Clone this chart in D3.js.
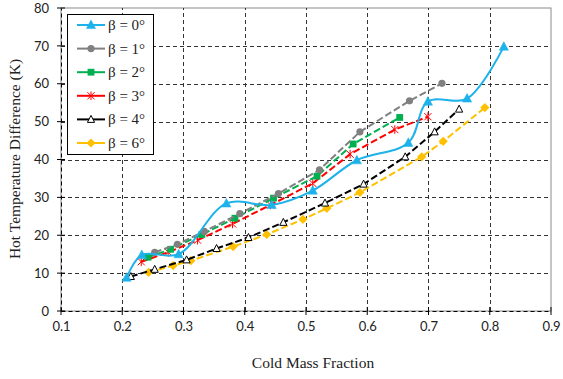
<!DOCTYPE html>
<html><head><meta charset="utf-8">
<script src="https://cdn.jsdelivr.net/npm/d3@7"></script>
<style>body{margin:0;background:#fff}</style>
</head><body>
<svg id="c" width="563" height="379"></svg>
<script>
const xTicks = [0.1,0.2,0.3,0.4,0.5,0.6,0.7,0.8,0.9];
const yTicks = [0,10,20,30,40,50,60,70,80];
const seriesNames = ["β = 0°","β = 1°","β = 2°","β = 3°","β = 4°","β = 6°"];
const b0x = [0.207,0.232,0.292,0.370,0.444,0.511,0.583,0.667,0.699,0.763,0.823];
const b0y = [8.8,14.8,15.0,28.4,28.0,31.8,39.8,44.4,55.3,56.1,69.8];
const b1x = [0.253,0.290,0.334,0.392,0.455,0.522,0.588,0.669,0.722];
const b1y = [15.5,17.6,21.0,25.7,31.0,37.3,47.3,55.5,60.1];
const b2x = [0.242,0.279,0.330,0.384,0.447,0.518,0.577,0.653];
const b2y = [14.2,16.3,20.2,24.5,29.8,35.6,44.1,51.1];
const b3x = [0.231,0.275,0.323,0.380,0.442,0.511,0.572,0.645,0.699];
const b3y = [13.0,15.5,18.7,23.0,28.0,33.7,41.4,47.9,51.3];
const b4x = [0.214,0.253,0.305,0.354,0.406,0.463,0.531,0.594,0.662,0.710,0.750];
const b4y = [9.1,11.0,13.5,16.5,19.4,23.4,28.5,33.5,40.7,47.3,53.3];
const b6x = [0.243,0.283,0.312,0.381,0.436,0.495,0.534,0.588,0.689,0.724,0.792];
const b6y = [10.2,12.0,13.3,17.0,20.2,24.2,27.1,31.3,40.7,44.8,53.7];

const colors = ["#1DB2EA","#808080","#00B050","#FF0000","#000000","#FFC000"];
const dashes = [null,"7,3","7,3","7,3","7,3","7,3"];

const W=563,H=379, m={l:61,r:12,t:8,b:68};
const svg=d3.select("#c");
const x=d3.scaleLinear().domain([0.1,0.9]).range([m.l,W-m.r]);
const y=d3.scaleLinear().domain([0,80]).range([H-m.b,m.t]);

svg.append("rect").attr("x",x(0.1)).attr("y",y(80)).attr("width",x(0.9)-x(0.1)).attr("height",y(0)-y(80))
  .attr("fill","none").attr("stroke","#8a8a8a").attr("stroke-width",1);
const g=svg.append("g");
g.selectAll(".hg").data(yTicks.filter(v=>v>0&&v<80)).join("line")
  .attr("x1",x(0.1)).attr("x2",x(0.9)).attr("y1",d=>Math.round(y(d))+0.5).attr("y2",d=>Math.round(y(d))+0.5)
  .attr("stroke","#333").attr("stroke-dasharray","4,3");
g.selectAll(".vg").data(xTicks.filter(v=>v>0.1&&v<0.9)).join("line")
  .attr("y1",y(0)).attr("y2",y(80)).attr("x1",d=>Math.round(x(d))+0.5).attr("x2",d=>Math.round(x(d))+0.5)
  .attr("stroke","#333").attr("stroke-dasharray","4,3");

const ax=d3.axisBottom(x).tickValues(xTicks).tickFormat(d3.format(".1f")).tickSize(0).tickPadding(11);
const axG=svg.append("g").attr("transform",`translate(0,${y(0)})`).call(ax);
axG.select(".domain").attr("stroke","#000").attr("stroke-dasharray","4,3");
axG.selectAll("text").attr("font-family","Lato, 'Open Sans', sans-serif").attr("font-size","13px").attr("fill","#222");
svg.append("g").selectAll("line").data(xTicks).join("line")
  .attr("x1",d=>x(d)).attr("x2",d=>x(d)).attr("y1",y(0)-4).attr("y2",y(0)+4).attr("stroke","#000");
const ay=d3.axisLeft(y).tickValues(yTicks).tickSize(0).tickPadding(12);
const ayG=svg.append("g").attr("transform",`translate(${x(0.1)},0)`).call(ay);
ayG.select(".domain").attr("stroke","#000").attr("stroke-dasharray","4,3");
ayG.selectAll("text").attr("font-family","Lato, 'Open Sans', sans-serif").attr("font-size","13px").attr("fill","#222");
svg.append("g").selectAll("line").data(yTicks).join("line")
  .attr("y1",d=>y(d)).attr("y2",d=>y(d)).attr("x1",x(0.1)-4).attr("x2",x(0.1)+4).attr("stroke","#000");

svg.append("text").attr("x",313).attr("y",368).attr("text-anchor","middle")
  .attr("font-family","'Liberation Serif', serif").attr("font-size","15.5px").attr("fill","#222").text("Cold Mass Fraction");
svg.append("text").attr("transform","translate(20,159) rotate(-90)").attr("text-anchor","middle")
  .attr("font-family","'Liberation Serif', serif").attr("font-size","15.5px").attr("fill","#222").text("Hot Temperature Difference (K)");

const allX=[b0x,b1x,b2x,b3x,b4x,b6x], allY=[b0y,b1y,b2y,b3y,b4y,b6y];
const series=allX.map((xs,i)=>xs.map((v,j)=>[v,allY[i][j]]));

function marker(sel,i){
  const c=colors[i];
  if(i===0){ sel.append("path").attr("d","M0,-5L4.6,3.6L-4.6,3.6Z").attr("fill",c).attr("stroke",c).attr("stroke-width",0.5); }
  else if(i===1){ sel.append("circle").attr("r",3.6).attr("fill",c); }
  else if(i===2){ sel.append("rect").attr("x",-3.4).attr("y",-3.4).attr("width",6.8).attr("height",6.8).attr("fill",c); }
  else if(i===3){ sel.append("path").attr("d","M-3.6,-3.6L3.6,3.6M-3.6,3.6L3.6,-3.6M0,-4.3L0,4.3").attr("stroke",c).attr("stroke-width",1).attr("fill","none"); }
  else if(i===4){ sel.append("path").attr("d","M0,-4L3.6,3L-3.6,3Z").attr("fill","#fff").attr("stroke",c).attr("stroke-width",1); }
  else { sel.append("path").attr("d","M0,-4.6L4.6,0L0,4.6L-4.6,0Z").attr("fill",c); }
}

const lineSmooth=d3.line().x(d=>x(d[0])).y(d=>y(d[1])).curve(d3.curveCatmullRom.alpha(0.5));
const lineStraight=d3.line().x(d=>x(d[0])).y(d=>y(d[1]));
const order=[5,4,3,2,1,0];
order.forEach(i=>{
  const gg=svg.append("g");
  gg.append("path").datum(series[i]).attr("d",i===0?lineSmooth:lineStraight)
    .attr("fill","none").attr("stroke",colors[i]).attr("stroke-width",2)
    .attr("stroke-dasharray",dashes[i]);
  series[i].forEach(p=>{
    const mg=gg.append("g").attr("transform",`translate(${x(p[0])},${y(p[1])})`);
    marker(mg,i);
  });
});

const lg=svg.append("g");
lg.append("rect").attr("x",67.5).attr("y",14.5).attr("width",86).attr("height",140).attr("fill","#fff").attr("stroke","#000");
seriesNames.forEach((n,i)=>{
  const cy=25+i*23.6;
  lg.append("line").attr("x1",77).attr("x2",105).attr("y1",cy).attr("y2",cy).attr("stroke",colors[i]).attr("stroke-width",2);
  const mg=lg.append("g").attr("transform",`translate(91,${cy})`);
  marker(mg,i);
  lg.append("text").attr("x",108).attr("y",cy+5).attr("font-family","'Liberation Serif', serif")
    .attr("font-size","15px").attr("fill","#222").text(n);
});
</script>
</body></html>
